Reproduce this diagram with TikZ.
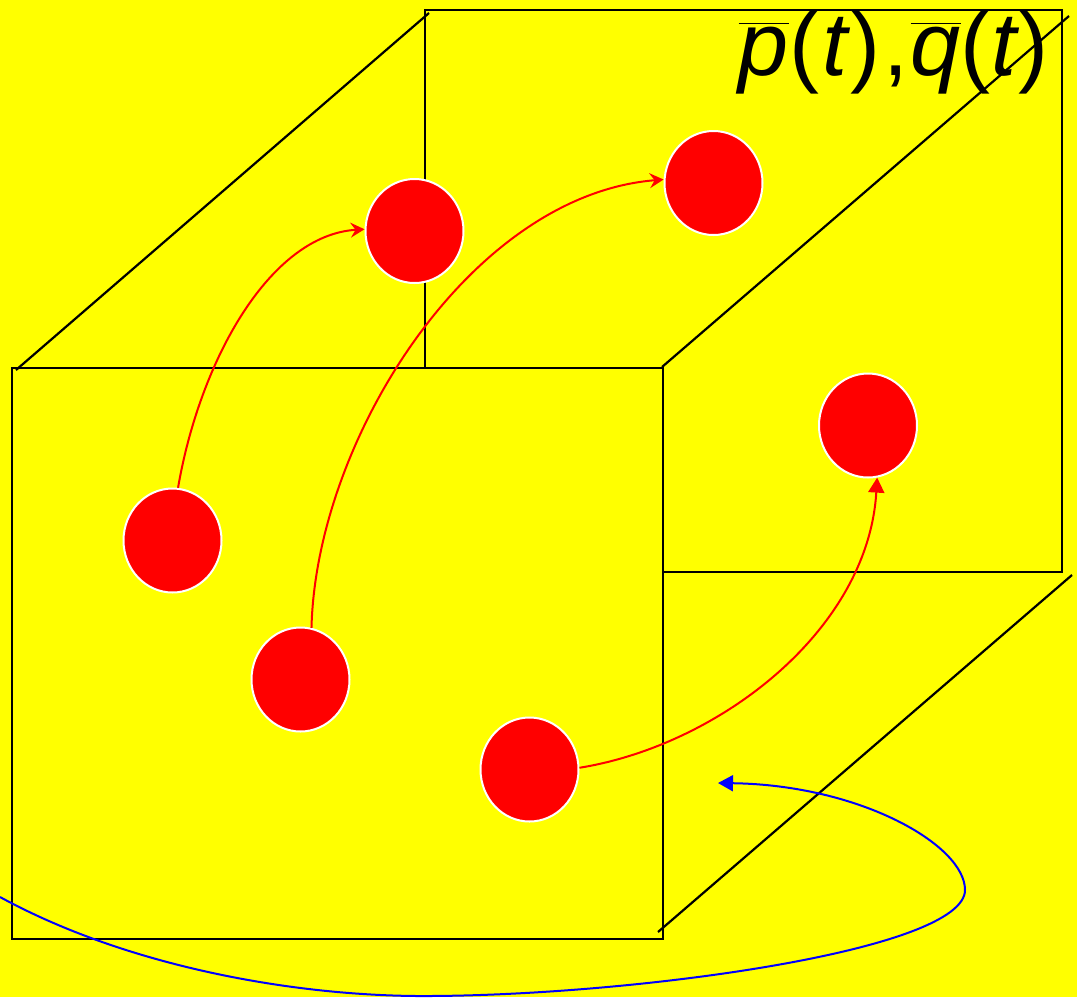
\documentclass[tikz,border=0pt]{standalone}
\usepackage{fontspec}
\setmainfont{Liberation Sans}
\usetikzlibrary{shapes.geometric, positioning, arrows.meta}

\definecolor{bgyellow}{RGB}{255,255,0}
\definecolor{ballred}{RGB}{255,0,0}
\definecolor{flowblue}{RGB}{0,0,255}

\newcommand{\barred}[1]{$\overline{\hbox{\rule{0pt}{50pt}\itshape #1}}$}

\begin{document}
\begin{tikzpicture}[
        x=1pt,
        y=-1pt,
        >=Stealth,
        % Red particles with a thin white rim
        ball/.style={ellipse, draw=white, fill=ballred, line width=2pt, inner sep=0pt, minimum width=98pt, minimum height=104pt},
        edgeline/.style={draw=black, line width=2.2pt},
        flow/.style={draw=ballred, line width=2pt},
        sweep/.style={draw=flowblue, line width=2pt}
    ]

    % --- Background ---
    \path[fill=bgyellow] (0,0) rectangle (1077,997);
    \useasboundingbox (0,0) rectangle (1077,997);

    % --- Cube corners ---
    \coordinate (backnw) at (425,10);
    \coordinate (backne) at (1062,10);
    \coordinate (backse) at (1062,572);
    \coordinate (backsw) at (663,572);
    \coordinate (backin) at (425,368);
    \coordinate (frontnw) at (12,368);
    \coordinate (frontne) at (663,368);
    \coordinate (frontse) at (663,939);
    \coordinate (frontsw) at (12,939);

    % Free ends of the three slanted edges
    \coordinate (diagaa) at (16,370);
    \coordinate (diagab) at (429,13);
    \coordinate (diagba) at (662,367);
    \coordinate (diagbb) at (1069,16);
    \coordinate (diagca) at (658,932);
    \coordinate (diagcb) at (1072,575);

    % --- Cube ---
    \draw[edgeline] (backin) -- (backnw) -- (backne) -- (backse) -- (backsw);
    \draw[edgeline] (frontnw) -- (frontne) -- (frontse) -- (frontsw) -- cycle;
    \draw[edgeline] (diagaa) -- (diagab);
    \draw[edgeline] (diagba) -- (diagbb);
    \draw[edgeline] (diagca) -- (diagcb);

    % --- Particles ---
    \node[ball] (starta) at (172.5,540.5) {};
    \node[ball] (startb) at (300.5,679.5) {};
    \node[ball] (startc) at (529.5,769.5) {};
    \node[ball] (enda) at (414.5,231) {};
    \node[ball] (endb) at (713.5,183) {};
    \node[ball] (endc) at (868,425.5) {};

    % --- Trajectories ---
    \draw[flow, -{Stealth[length=14pt,width=15pt,inset=5pt]}]
        (starta.84) .. controls (200,360) and (270,235) .. (enda.178);
    \draw[flow, -{Stealth[length=14pt,width=15pt,inset=5pt]}]
        (startb.78) .. controls (316,440) and (470,195) .. (endb.176);
    \draw[flow, -{Triangle[length=15pt,width=16pt]}]
        (startc.2) .. controls (720,745) and (868,630) .. (endc.-80);

    % --- Flow of the whole volume ---
    \coordinate (sweepa) at (0,897);
    \coordinate (sweepb) at (718,783);
    \draw[sweep, -{Triangle[length=15pt,width=16pt]}] (sweepa)
        .. controls (130,968) and (300,997) .. (430,996)
        .. controls (640,995) and (965,950) .. (965,890)
        .. controls (965,845) and (860,785) .. (sweepb);

    % --- Title ---
    \node[anchor=base east, inner sep=0pt, font=\fontsize{90}{90}\selectfont] (title) at (1049,75)
        {\barred{p}\kern1pt(\kern3pt\textit{t})\kern3pt,\kern2pt\barred{q}\kern0pt(\kern1pt\textit{t}\kern-1pt)};

    \end{tikzpicture}
\end{document}
